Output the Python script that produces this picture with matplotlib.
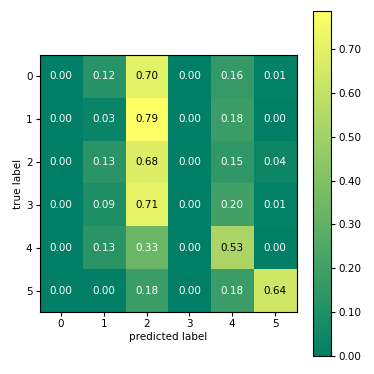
import numpy as np
import matplotlib
matplotlib.use("Agg")
import matplotlib.pyplot as plt

labels = [0, 1, 2, 3, 4, 5]
cm = np.array([
    [0.00, 0.12, 0.70, 0.00, 0.16, 0.01],
    [0.00, 0.03, 0.787, 0.00, 0.18, 0.00],
    [0.00, 0.13, 0.68, 0.00, 0.15, 0.04],
    [0.00, 0.09, 0.71, 0.00, 0.20, 0.01],
    [0.00, 0.13, 0.33, 0.00, 0.53, 0.00],
    [0.00, 0.00, 0.18, 0.00, 0.18, 0.64],
])
cbar_ticks = [0.0, 0.1, 0.2, 0.3, 0.4, 0.5, 0.6, 0.7]

fig = plt.figure(figsize=(3.74, 3.74), dpi=100)
ax = fig.add_axes([39/374, 1 - 312/374, 258/374, 257/374])
cax = fig.add_axes([313/374, 1 - 356/374, 18/374, 345/374])

im = ax.imshow(cm, cmap='summer', vmin=0, vmax=cm.max())
thresh = cm.max() / 2
for i in range(cm.shape[0]):
    for j in range(cm.shape[1]):
        ax.text(j, i, f"{cm[i, j]:.2f}", ha='center', va='center', fontsize=7.5,
                color='black' if cm[i, j] > thresh else 'white')

ax.set_xticks(range(len(labels)))
ax.set_yticks(range(len(labels)))
ax.set_xticklabels(labels, fontsize=7.5)
ax.set_yticklabels(labels, fontsize=7.5)
ax.set_xlabel('predicted label', fontsize=7.5, labelpad=2)
ax.set_ylabel('true label', fontsize=7.5, labelpad=2)
ax.tick_params(length=3, pad=2)

cb = fig.colorbar(im, cax=cax, ticks=cbar_ticks, format='%.2f')
cb.ax.tick_params(labelsize=7.5, length=3, pad=2)

fig.savefig('out.png', dpi=100)
